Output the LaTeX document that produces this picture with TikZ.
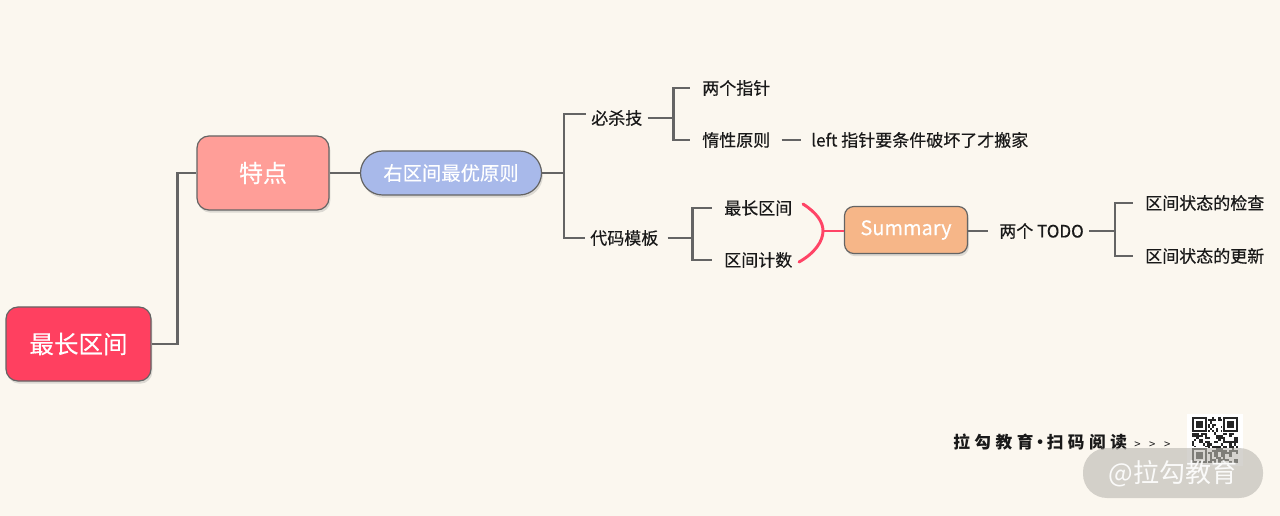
\documentclass[tikz,border=0pt]{standalone}
\usepackage{fontspec}
\setmainfont{Noto Sans CJK SC}
\usetikzlibrary{shadows,calc}
\definecolor{bg}{RGB}{251,247,239}
\definecolor{rootc}{RGB}{255,64,96}
\definecolor{tedianc}{RGB}{255,158,152}
\definecolor{pillc}{RGB}{168,185,234}
\definecolor{sumc}{RGB}{246,182,136}
\definecolor{edgec}{RGB}{100,100,100}
\definecolor{linec}{RGB}{100,100,100}
\definecolor{pinkc}{RGB}{255,68,102}
\definecolor{ink}{RGB}{25,25,25}
\definecolor{wmc}{RGB}{185,183,176}
\begin{document}
\begin{tikzpicture}[x=0.75pt,y=-0.75pt,
  box/.style={draw=edgec, line width=0.9pt, rounded corners=9pt, text=white, align=center,
    drop shadow={shadow xshift=1pt, shadow yshift=-2pt, opacity=0.25}},
  lbl/.style={inner xsep=3.75pt, inner ysep=2pt, text=ink, anchor=west, font=\fontsize{12.75}{14}\selectfont\addfontfeatures{FakeBold=0.4}},
  conn/.style={draw=linec, line width=1.7pt},
  pinkline/.style={draw=pinkc, line width=2.2pt, line cap=round},
]
\useasboundingbox (0,0) rectangle (1280,516);
\fill[bg] (0,0) rectangle (1280,516);

% main nodes
\node[box, fill=rootc, minimum width=108.75pt, minimum height=55.5pt, font=\fontsize{18.4}{20}\selectfont\addfontfeatures{FakeBold=0.3}] (root) at (78.5,344) {最长区间};
\node[box, fill=tedianc, minimum width=99pt, minimum height=55.5pt, font=\fontsize{18}{20}\selectfont\addfontfeatures{FakeBold=0.3}] (tedian) at (263,173) {特点};
\node[box, fill=pillc, minimum width=135.75pt, minimum height=33pt, rounded corners=16.5pt, font=\fontsize{14.5}{16}\selectfont\addfontfeatures{FakeBold=0.3}] (pill) at (451,173) {右区间最优原则};
\node[box, fill=sumc, minimum width=92.25pt, minimum height=35.25pt, rounded corners=7pt, font=\fontsize{15}{16}\selectfont\addfontfeatures{FakeBold=0.3}] (summary) at (906,230) {Summary};

% text nodes
\node[lbl] (bisha) at (586,118) {必杀技};
\node[lbl] (daima) at (585,238) {代码模板};
\node[lbl] (liangge) at (697,88) {两个指针};
\node[lbl] (duoxing) at (697,140) {惰性原则};
\node[lbl] (leftn) at (806,140) {left 指针要条件破坏了才搬家};
\node[lbl] (zc) at (719,208) {最长区间};
\node[lbl] (js) at (719,260) {区间计数};
\node[lbl] (todo) at (994,231) {两个 TODO};
\node[lbl] (jc) at (1140,203) {区间状态的检查};
\node[lbl] (gx) at (1140,256) {区间状态的更新};

% connectors
\draw[conn] (root.east) -- ++(26,0) |- (tedian.west);
\draw[conn] (tedian.east) -- (pill.west);
\draw[conn] (pill.east) -- ++(22,0) coordinate (j1);
\draw[conn] (j1) |- ([yshift=3pt]bisha.west);
\draw[conn] (j1) |- (daima.west);
\draw[conn] (bisha.east) -- ++(26,0) coordinate (j2);
\draw[conn, shorten >=5pt] (j2) |- (liangge.west);
\draw[conn, shorten >=5pt] (j2) |- (duoxing.west);
\draw[conn, shorten <=4.5pt, shorten >=4pt] (duoxing.east) -- (leftn.west);
\draw[conn, shorten <=3pt] (daima.east) -- ++(29,0) coordinate (j3);
\draw[conn, shorten >=5pt] (j3) |- (zc.west);
\draw[conn, shorten >=5pt] (j3) |- (js.west);
\draw[conn, shorten >=4.5pt] (todo.west -| summary.east) -- (todo.west);
\draw[conn] (todo.east) -- ++(26,0) coordinate (j4);
\draw[conn, shorten >=5pt] (j4) |- (jc.west);
\draw[conn, shorten >=5pt] (j4) |- (gx.west);

% pink brace
\coordinate (ba) at (803,204);
\coordinate (bt) at (823,231);
\coordinate (bb) at (799,262);
\draw[pinkline] (ba) .. controls (817,213) and (823,222) .. (bt) .. controls (823,241) and (815,253) .. (bb);
\draw[pinkline, line cap=butt] (bt) -- (bt -| summary.west);

% footer
\node[anchor=west, inner sep=0pt, text=ink, font=\fontsize{12.5}{14}\selectfont\bfseries] (footer) at (953,442) {\addfontfeatures{LetterSpace=27}拉勾教育\makebox[10pt][c]{·}扫码阅读};
\node[anchor=west, inner sep=0pt, text=ink, font=\fontsize{8.5}{9}\selectfont] (arrows) at (1134,445) {>\hspace{6.5pt}>\hspace{6.5pt}>};

% QR code
\fill[white] (1187,414) rectangle (1243,466);
\pgfmathsetseed{11}
\foreach \i in {0,...,20}{
  \foreach \j in {0,...,20}{
    \pgfmathparse{rnd<0.5?1:0}
    \ifnum\pgfmathresult=1
      \fill[black!85] ({1192+2.2*\i},{417+2.2*\j}) rectangle ++(2.2,2.2);
    \fi
  }
}
\foreach \ox/\oy in {0/0, 14/0, 0/14}{
  \fill[white] ({1192+2.2*\ox-1},{417+2.2*\oy-1}) rectangle ++({2.2*7+2},{2.2*7+2});
  \fill[black!85] ({1192+2.2*\ox},{417+2.2*\oy}) rectangle ++({2.2*7},{2.2*7});
  \fill[white] ({1192+2.2*(\ox+1)},{417+2.2*(\oy+1)}) rectangle ++({2.2*5},{2.2*5});
  \fill[black!85] ({1192+2.2*(\ox+2)},{417+2.2*(\oy+2)}) rectangle ++({2.2*3},{2.2*3});
}

% watermark
\fill[wmc, opacity=0.6, rounded corners=18pt] (1083,448) rectangle (1263,498);
\node[text=white, opacity=0.9, font=\fontsize{19.5}{21}\selectfont] (wm) at (1173,474) {@拉勾教育};
\end{tikzpicture}
\end{document}
